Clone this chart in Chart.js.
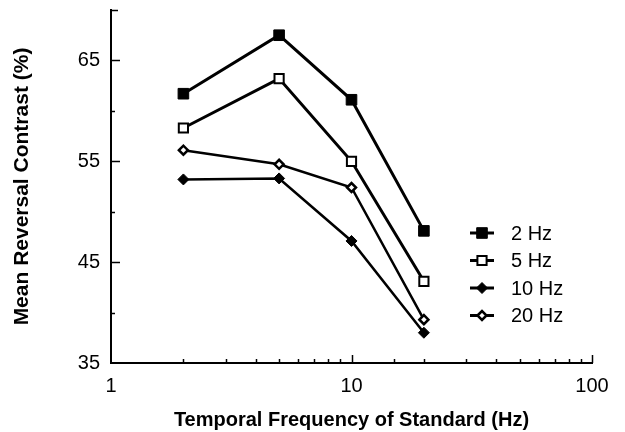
<!DOCTYPE html>
<html>
<head>
<meta charset="utf-8">
<script src="https://cdn.jsdelivr.net/npm/chart.js@4/dist/chart.umd.min.js"></script>
<style>
  html, body { margin: 0; padding: 0; background: #fff; }
  #wrap { width: 625px; height: 432px; }
</style>
</head>
<body>
<div id="wrap"><canvas id="myChart" width="625" height="432"></canvas></div>
<script>
// Data
var frequencies = [2, 5, 10, 20];
var hz2 = [61.7, 67.5, 61.1, 48.1];
var hz5 = [58.3, 63.2, 55.0, 43.1];
var hz10 = [53.2, 53.3, 47.1, 38.0];
var hz20 = [56.1, 54.7, 52.4, 39.3];
var seriesLabels = ['2 Hz', '5 Hz', '10 Hz', '20 Hz'];
var yLabelTicks = [35, 45, 55, 65];
var xLabelTicks = [1, 10, 100];

var FONT = '"Liberation Sans", Arial, Helvetica, sans-serif';

function toPoints(vals) {
    return frequencies.map(function (f, i) { return { x: f, y: vals[i] }; });
}

var datasets = [
    { label: seriesLabels[0], data: toPoints(hz2), borderColor: '#000', backgroundColor: '#000',
      borderWidth: 3, pointStyle: 'rect', pointRadius: 7.5, pointBorderWidth: 1, pointBackgroundColor: '#000' },
    { label: seriesLabels[1], data: toPoints(hz5), borderColor: '#000', backgroundColor: '#fff',
      borderWidth: 3, pointStyle: 'rect', pointRadius: 6.5, pointBorderWidth: 2, pointBackgroundColor: '#fff' },
    { label: seriesLabels[2], data: toPoints(hz10), borderColor: '#000', backgroundColor: '#000',
      borderWidth: 2.5, pointStyle: 'rectRot', pointRadius: 5.5, pointBorderWidth: 1, pointBackgroundColor: '#000' },
    { label: seriesLabels[3], data: toPoints(hz20), borderColor: '#000', backgroundColor: '#fff',
      borderWidth: 2.5, pointStyle: 'rectRot', pointRadius: 4.5, pointBorderWidth: 2.5, pointBackgroundColor: '#fff' }
];

function drawMarker(ctx, ds, x, y) {
    ctx.save();
    ctx.fillStyle = ds.pointBackgroundColor;
    ctx.strokeStyle = '#000';
    ctx.lineWidth = ds.pointBorderWidth;
    ctx.beginPath();
    if (ds.pointStyle === 'rect') {
        var s = Math.SQRT1_2 * ds.pointRadius;
        ctx.rect(x - s, y - s, 2 * s, 2 * s);
    } else {
        var r = ds.pointRadius;
        ctx.moveTo(x - r, y);
        ctx.lineTo(x, y - r);
        ctx.lineTo(x + r, y);
        ctx.lineTo(x, y + r);
        ctx.closePath();
    }
    ctx.fill();
    ctx.stroke();
    ctx.restore();
}

// Inward ticks and legend
var extrasPlugin = {
    id: 'extras',
    afterDraw: function (chart) {
        var ctx = chart.ctx;
        var xs = chart.scales.x, ys = chart.scales.y;
        var area = chart.chartArea;
        ctx.save();
        ctx.strokeStyle = '#000';
        ctx.lineWidth = 1.5;
        // y ticks
        for (var v = 40; v <= 70; v += 5) {
            var py = Math.round(ys.getPixelForValue(v)) + 0.5;
            var len = (v === 70) ? 7 : (yLabelTicks.indexOf(v) >= 0 ? 9 : 4);
            ctx.beginPath();
            ctx.moveTo(area.left, py);
            ctx.lineTo(area.left + len, py);
            ctx.stroke();
        }
        // x ticks
        xs.ticks.forEach(function (t) {
            if (t.value <= 1) return;
            var px = Math.round(xs.getPixelForValue(t.value)) + 0.5;
            var len = xLabelTicks.indexOf(t.value) >= 0 ? 8 : 4;
            ctx.beginPath();
            ctx.moveTo(px, area.bottom);
            ctx.lineTo(px, area.bottom - len);
            ctx.stroke();
        });
        // legend
        var lx = 482, ly = 233;
        chart.data.datasets.forEach(function (ds, i) {
            var y = ly + i * 27.5;
            ctx.lineWidth = 3;
            ctx.beginPath();
            ctx.moveTo(lx - 12, y);
            ctx.lineTo(lx + 12, y);
            ctx.stroke();
            drawMarker(ctx, ds, lx, y);
            ctx.fillStyle = '#000';
            ctx.font = '20px ' + FONT;
            ctx.textBaseline = 'middle';
            ctx.textAlign = 'left';
            ctx.fillText(ds.label, lx + 29, y + 1);
        });
        ctx.restore();
    }
};

var ctx = document.getElementById('myChart').getContext('2d');
var chart = new Chart(ctx, {
    type: 'line',
    data: { datasets: datasets },
    options: {
        responsive: false,
        animation: false,
        layout: { padding: { top: 10, right: 33, left: 0, bottom: 0 } },
        plugins: { legend: { display: false }, tooltip: { enabled: false } },
        elements: { line: { tension: 0 } },
        scales: {
            x: {
                type: 'logarithmic',
                min: 1,
                max: 100,
                afterFit: function (s) { s.height = 69; s.paddingLeft = 0; s.paddingRight = 0; },
                grid: { display: false, drawTicks: false },
                border: { display: true, color: '#000', width: 2 },
                ticks: {
                    color: '#000',
                    padding: 11,
                    autoSkip: false,
                    maxRotation: 0,
                    font: { family: FONT, size: 20 },
                    callback: function (value) {
                        return xLabelTicks.indexOf(value) >= 0 ? String(value) : '';
                    }
                },
                title: {
                    display: true,
                    text: 'Temporal Frequency of Standard (Hz)',
                    color: '#000',
                    padding: { top: 1, bottom: 0 },
                    font: { family: FONT, size: 20, weight: 'bold' }
                }
            },
            y: {
                min: 35,
                max: 70,
                afterFit: function (s) { s.width = 111; s.paddingTop = 0; s.paddingBottom = 0; },
                grid: { display: false, drawTicks: false },
                border: { display: true, color: '#000', width: 2 },
                ticks: {
                    stepSize: 5,
                    color: '#000',
                    padding: 11,
                    font: { family: FONT, size: 20 },
                    callback: function (value) {
                        return yLabelTicks.indexOf(value) >= 0 ? String(value) : '';
                    }
                },
                title: {
                    display: true,
                    text: 'Mean Reversal Contrast (%)',
                    color: '#000',
                    padding: { top: 10, bottom: 0 },
                    font: { family: FONT, size: 21, weight: 'bold' }
                }
            }
        }
    },
    plugins: [extrasPlugin]
});
</script>
</body>
</html>
